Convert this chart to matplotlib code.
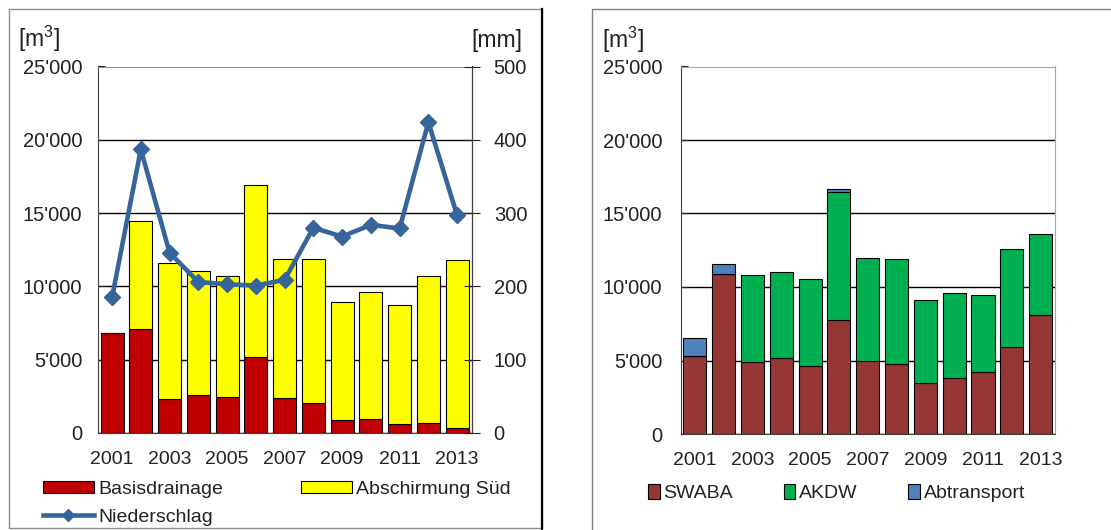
import matplotlib
matplotlib.use("Agg")
import matplotlib.pyplot as plt
import numpy as np
from matplotlib.lines import Line2D
from matplotlib.patches import Patch, Rectangle
from matplotlib.ticker import FuncFormatter, MultipleLocator

plt.rcParams['font.family'] = ['Liberation Sans', 'DejaVu Sans']
plt.rcParams['mathtext.default'] = 'regular'

years = [str(y) for y in range(2001, 2014)]

# left panel: water volumes [m3] and precipitation [mm]
basisdrainage = [6800, 7070, 2300, 2570, 2480, 5180, 2390, 2070, 890, 980, 590, 660, 320]
abschirmung_sued = [0, 7380, 9310, 8480, 8250, 11770, 9470, 9790, 8060, 8660, 8110, 10070, 11450]
niederschlag = [185, 387, 246, 206, 203, 201, 209, 280, 268, 284, 279, 424, 297]

# right panel: disposal [m3]
swaba = [5320, 10860, 4890, 5140, 4640, 7740, 4980, 4730, 3480, 3820, 4230, 5900, 8080]
akdw = [0, 0, 5900, 5900, 5900, 8750, 6970, 7150, 5660, 5800, 5250, 6660, 5520]
abtransport = [1240, 680, 0, 0, 0, 210, 0, 0, 0, 0, 0, 0, 0]

W, H = 1111, 530
fig = plt.figure(figsize=(W / 100, H / 100), dpi=100)


def px(x0, y0, x1, y1):
    # pixel box (top-left origin) -> figure fraction rect
    return [x0 / W, 1 - y1 / H, (x1 - x0) / W, (y1 - y0) / H]


fmt = FuncFormatter(lambda v, p: f"{int(v):,}".replace(",", "'"))
xpos = np.arange(len(years))
bw = 0.8
edge = dict(edgecolor='black', linewidth=0.8)
txt = '#222222'


def style_axes(ax, pad):
    ax.set_xlim(-0.5, len(years) - 0.5)
    ax.set_ylim(0, 25000)
    ax.yaxis.set_major_locator(MultipleLocator(5000))
    ax.yaxis.set_major_formatter(fmt)
    ax.set_xticks(xpos[::2])
    ax.set_xticklabels(years[::2])
    ax.tick_params(axis='x', length=0, pad=13, labelsize=14, colors=txt)
    ax.tick_params(axis='y', direction='in', length=5, pad=pad, labelsize=14.5,
                   colors=txt)
    ax.grid(axis='y', color='black', linewidth=1.0)
    ax.set_axisbelow(True)


# ---- left panel ----
ax = fig.add_axes(px(97.7, 66.5, 471.5, 433))
ax.bar(xpos, basisdrainage, bw, color='#C00000', **edge, zorder=2)
ax.bar(xpos, abschirmung_sued, bw, bottom=basisdrainage, color='#FFFF00', **edge, zorder=2)
style_axes(ax, 11)
ax.spines['top'].set_color('#8C8C8C')
ax.spines['left'].set_color('#404040')
ax.spines['bottom'].set_color('#404040')

ax2 = ax.twinx()
ax2.set_ylim(0, 500)
ax2.yaxis.set_major_locator(MultipleLocator(100))
ax2.plot(xpos, niederschlag, color='#36659B', linewidth=3.3, marker='D', markersize=8,
         zorder=3)
ax2.tick_params(axis='y', direction='inout', length=12, pad=10, labelsize=14.5,
                colors=txt)
for s in ax2.spines.values():
    s.set_visible(False)
ax2.spines['right'].set_visible(True)
ax2.spines['right'].set_color('#404040')

fig.text(18 / W, 1 - 39 / H, "[m$^{3}$]", fontsize=16.5, va='center', color=txt)
fig.text(522 / W, 1 - 40 / H, "[mm]", fontsize=16.5, va='center', ha='right', color=txt)

handles = [Patch(facecolor='#C00000', **edge),
           Line2D([], [], color='#36659B', linewidth=3.3, marker='D', markersize=6),
           Patch(facecolor='#FFFF00', **edge)]
fig.legend(handles, ['Basisdrainage', 'Niederschlag', 'Abschirmung Süd'], ncol=2,
           loc='upper left', bbox_to_anchor=(43 / W, 1 - 481 / H), frameon=False,
           fontsize=14, handlelength=2.6, handleheight=0.6, handletextpad=0.25,
           columnspacing=4.0, labelspacing=0.55, borderpad=0, borderaxespad=0,
           labelcolor=txt)

# ---- right panel ----
bx = fig.add_axes(px(680.5, 66.5, 1055, 434))
bx.bar(xpos, swaba, bw, color='#953735', **edge, zorder=2)
bx.bar(xpos, akdw, bw, bottom=swaba, color='#00B050', **edge, zorder=2)
base = np.array(swaba) + np.array(akdw)
blue = [v > 0 for v in abtransport]
bx.bar(xpos[blue], np.array(abtransport)[blue], bw, bottom=base[blue],
       color='#4F81BD', **edge, zorder=2)
style_axes(bx, 13)
bx.spines['top'].set_color('#A6A6A6')
bx.spines['right'].set_color('#A6A6A6')
bx.spines['left'].set_color('#404040')
bx.spines['bottom'].set_color('#404040')

fig.text(602 / W, 1 - 40 / H, "[m$^{3}$]", fontsize=16.5, va='center', color=txt)

handles = [Patch(facecolor=c, **edge) for c in ('#953735', '#00B050', '#4F81BD')]
fig.legend(handles, ['SWABA', 'AKDW', 'Abtransport'], ncol=3, loc='upper left',
           bbox_to_anchor=(648 / W, 1 - 484 / H), frameon=False, fontsize=14,
           handlelength=0.6, handleheight=0.8, handletextpad=0.2,
           columnspacing=2.6, borderpad=0, borderaxespad=0, labelcolor=txt)

# panel frames
fig.add_artist(Rectangle((9 / W, 1 - 528 / H), 533 / W, 519 / H, transform=fig.transFigure,
                         fill=False, edgecolor='#8C8C8C', linewidth=1))
fig.add_artist(Line2D([542 / W, 542 / W], [1 - 9 / H, 0], transform=fig.transFigure,
                      color='black', linewidth=1.6))
fig.add_artist(Rectangle((592 / W, 1 - 540 / H), 600 / W, 531 / H, transform=fig.transFigure,
                         fill=False, edgecolor='#7F7F7F', linewidth=1))

fig.savefig('out.png', dpi=100)
